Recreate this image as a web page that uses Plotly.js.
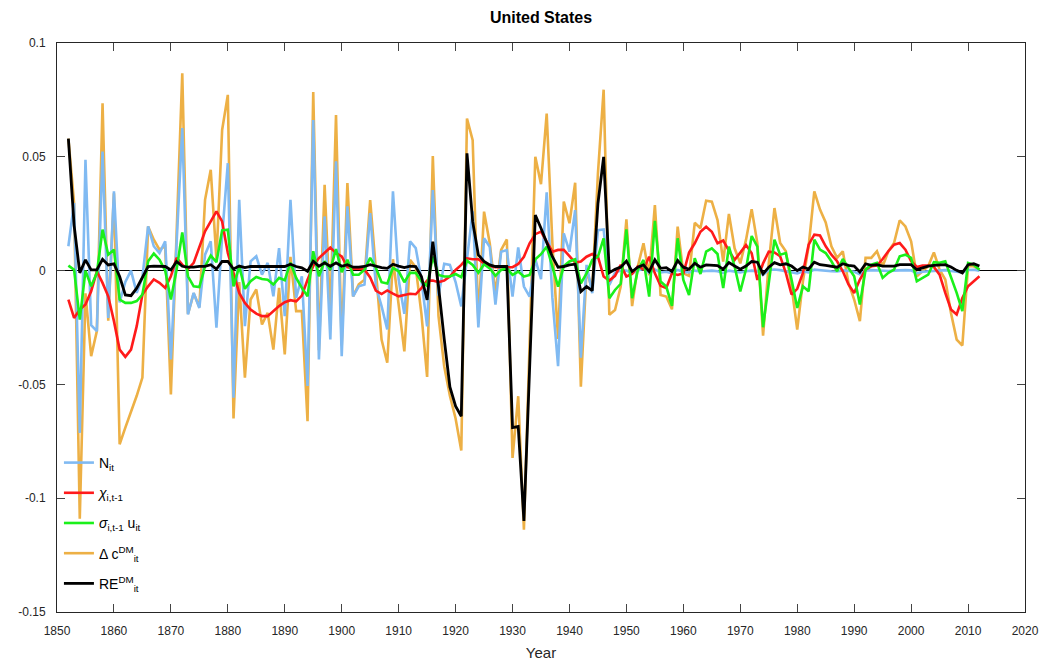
<!DOCTYPE html>
<html>
<head>
<meta charset="utf-8">
<script src="https://cdn.plot.ly/plotly-3.0.1.min.js"></script>
<style>html,body{margin:0;padding:0;background:#fff;}#chart{width:1039px;height:666px;}</style>
</head>
<body>
<div id="chart"></div>
<script>
// Years 1852-2012
var years = [
1852,1853,1854,1855,1856,1857,1858,1859,
1860,1861,1862,1863,1864,1865,1866,1867,1868,1869,
1870,1871,1872,1873,1874,1875,1876,1877,1878,1879,
1880,1881,1882,1883,1884,1885,1886,1887,1888,1889,
1890,1891,1892,1893,1894,1895,1896,1897,1898,1899,
1900,1901,1902,1903,1904,1905,1906,1907,1908,1909,
1910,1911,1912,1913,1914,1915,1916,1917,1918,1919,
1920,1921,1922,1923,1924,1925,1926,1927,1928,1929,
1930,1931,1932,1933,1934,1935,1936,1937,1938,1939,
1940,1941,1942,1943,1944,1945,1946,1947,1948,1949,
1950,1951,1952,1953,1954,1955,1956,1957,1958,1959,
1960,1961,1962,1963,1964,1965,1966,1967,1968,1969,
1970,1971,1972,1973,1974,1975,1976,1977,1978,1979,
1980,1981,1982,1983,1984,1985,1986,1987,1988,1989,
1990,1991,1992,1993,1994,1995,1996,1997,1998,1999,
2000,2001,2002,2003,2004,2005,2006,2007,2008,2009,
2010,2011,2012];

// N_it (blue)
var nIt = [
0.0107,0.0297,-0.0713,0.0487,-0.024,-0.0266,0.0523,-0.0208,
0.0348,-0.014,-0.005,0.0,-0.0098,-0.003,0.0194,0.0107,0.0077,0.0129,
-0.039,0.012,0.0626,-0.0193,-0.0098,-0.0164,0.007,0.0129,-0.0251,0.0151,
0.0472,-0.0558,0.0311,-0.0244,0.0041,0.0063,-0.0018,0.0034,-0.0113,0.0099,
-0.02,0.0311,-0.012,-0.0025,-0.0507,0.0662,-0.039,0.0238,-0.0303,0.048,
-0.0376,0.0282,-0.0113,-0.0069,-0.0061,0.0253,-0.0069,-0.0156,-0.0259,0.0348,
-0.0039,-0.019,0.0129,0.0099,-0.004,-0.0245,0.0354,-0.011,0.003,0.0025,
-0.005,-0.0157,0.006,0.026,-0.025,0.0142,0.0105,-0.0149,0.0083,0.009,
-0.0114,0.0102,-0.007,-0.0114,0.005,-0.0038,0.0344,-0.012,-0.042,0.0164,
0.0083,0.0266,-0.0383,0.0025,-0.0099,0.0178,0.0181,-0.0063,-0.0009,0.0,
0.0,-0.0012,0.0,0.0008,-0.001,0.0005,-0.0008,-0.0005,-0.0012,0.0003,
-0.0005,-0.0008,0.0,-0.0004,-0.0002,0.0,-0.0003,-0.001,0.0,-0.0004,
-0.0008,-0.0003,0.0,-0.0002,-0.0019,0.0003,0.0005,0.0002,-0.0002,-0.0006,
-0.0012,-0.0004,-0.0008,0.0004,0.0001,0.0,-0.0003,-0.0004,0.0001,-0.0002,
-0.0005,-0.0016,0.0,0.0002,0.0001,-0.0003,-0.0002,0.0,0.0002,0.0002,
0.0001,-0.0012,-0.0005,-0.0003,0.0,0.0001,0.0002,-0.0002,-0.0005,-0.0008,
0.0003,0.0004,0.0];

// chi_{i,t-1} (red)
var chi = [
-0.0127,-0.0208,-0.0171,-0.0149,-0.0091,-0.0003,-0.0054,-0.0113,
-0.0222,-0.0347,-0.0379,-0.0347,-0.0244,-0.0105,-0.0069,-0.0039,-0.0054,-0.0076,
-0.0025,0.0056,0.0026,0.0007,0.0034,0.0099,0.0173,0.0216,0.026,0.0216,
0.0077,-0.001,-0.0098,-0.0142,-0.0171,-0.0189,-0.02,-0.02,-0.0178,-0.0156,
-0.0139,-0.013,-0.0135,-0.011,-0.004,0.002,0.0055,0.008,0.0101,0.0077,
0.0062,0.0015,0.0008,0.0008,0.0005,-0.003,-0.0088,-0.0103,-0.0087,-0.0101,
-0.0113,-0.0107,-0.0102,-0.0104,-0.0077,-0.0044,-0.0044,-0.0051,-0.0044,-0.0026,
0.0003,0.0025,0.0054,0.005,0.005,0.0032,0.002,0.0015,0.0015,0.0014,
0.0015,0.0029,0.0061,0.012,0.016,0.0171,0.0128,0.0083,0.0091,0.0091,
0.0064,0.0035,0.004,0.0061,0.0073,0.0061,-0.0026,-0.0044,-0.0023,0.0025,
-0.0026,-0.0015,0.0018,0.0006,0.0061,-0.0012,-0.0067,-0.0077,-0.0012,-0.0019,
-0.0012,0.0079,0.012,0.0171,0.0193,0.0171,0.012,0.0132,0.0088,0.0047,
0.0079,0.0113,0.0076,-0.0041,0.0032,0.0083,0.008,0.0063,-0.001,-0.0105,
-0.008,-0.001,0.0114,0.0158,0.0154,0.0107,0.007,0.0041,-0.0003,-0.0061,
-0.0098,-0.0039,0.0004,0.0019,0.0022,0.0051,0.0085,0.0114,0.0121,0.0092,
0.0041,0.0016,0.0022,0.0022,0.0016,-0.0018,-0.0098,-0.0171,-0.0193,-0.012,
-0.0069,-0.0047,-0.0025];

// sigma_{i,t-1} u_it (green)
var sigmaU = [
0.0022,0.0004,-0.0215,0.0,-0.0069,-0.001,0.018,0.007,
0.0092,-0.0127,-0.0142,-0.0142,-0.0134,-0.0105,0.0041,0.0075,0.0048,0.0,
-0.0127,0.0004,0.0168,-0.0025,-0.0069,-0.0072,0.0019,0.0066,0.0037,0.0177,
0.018,-0.0069,0.0019,-0.008,-0.0047,-0.0028,-0.0037,-0.004,-0.0061,-0.0032,
-0.0042,0.0035,-0.0032,-0.0076,-0.0113,0.0085,-0.0025,0.0041,0.0004,0.0095,
-0.0007,0.0048,-0.0018,-0.0018,0.0004,0.0056,0.0012,-0.0051,-0.0057,0.0012,
-0.0003,-0.0051,-0.001,-0.001,-0.0047,-0.0067,0.0061,-0.0019,-0.0026,-0.0026,
-0.0015,-0.0029,0.0044,0.0025,-0.0009,0.0028,0.001,-0.0023,0.0003,0.001,
-0.0019,-0.0004,-0.0026,-0.0019,0.005,0.0072,0.0105,0.0018,-0.007,0.002,
0.004,0.005,-0.0056,-0.0012,0.0047,0.0061,0.0142,-0.0121,-0.0085,-0.0058,
0.0181,-0.0121,0.0003,0.0047,-0.0114,0.0219,-0.0048,-0.007,-0.0155,0.0142,
-0.0041,-0.0107,0.0054,-0.0015,0.0083,0.0098,0.0073,-0.0077,0.0105,0.0018,
-0.0092,0.0006,0.0152,0.0105,-0.0249,-0.0056,0.0136,0.007,0.0077,-0.0039,
-0.0164,-0.0069,-0.0091,0.0136,0.0092,0.0077,0.0041,-0.0003,0.0051,0.0012,
-0.0025,-0.0149,0.0004,0.0026,0.0034,-0.0032,-0.001,0.0004,0.0063,0.007,
0.0056,-0.0047,-0.0032,-0.0018,0.0037,0.0034,0.0041,-0.0025,-0.0098,-0.0178,
0.0034,0.0026,0.0004];

// Delta c^DM_it (orange)
var deltaC = [
0.058,0.0297,-0.109,-0.01,-0.0376,-0.0266,0.0735,-0.022,
0.034,-0.0763,-0.069,-0.062,-0.055,-0.047,0.0194,0.0136,0.0092,0.0107,
-0.0544,0.016,0.0867,-0.019,-0.01,-0.016,0.0311,0.0443,0.005,0.0618,
0.0772,-0.065,-0.005,-0.047,-0.0127,-0.0083,-0.0237,-0.0186,-0.0347,-0.0076,
-0.0368,0.006,-0.0178,-0.0178,-0.0662,0.0785,-0.035,0.0377,-0.02,0.0684,
-0.033,0.0385,-0.0113,-0.006,-0.004,0.031,-0.001,-0.0303,-0.0405,0.005,
-0.015,-0.0355,0.0047,0.0015,-0.019,-0.0467,0.0503,-0.02,-0.042,-0.055,
-0.065,-0.079,0.0668,0.0573,-0.022,0.0259,0.012,-0.0099,0.0091,0.0137,
-0.0823,-0.0552,-0.1138,-0.035,0.05,0.038,0.069,0.012,-0.03,0.0303,
0.0208,0.0386,-0.051,0.0003,-0.0085,0.0427,0.0795,-0.0194,-0.0173,-0.007,
0.0225,-0.0156,0.0018,0.012,-0.002,0.0288,-0.0107,-0.0114,-0.017,0.0193,
-0.0012,-0.0023,0.021,0.0186,0.0307,0.0303,0.0222,0.004,0.0249,0.0098,
0.0032,0.0135,0.027,0.012,-0.0286,0.0032,0.0275,0.0121,0.0085,-0.0069,
-0.0259,-0.0047,0.0107,0.0348,0.0268,0.0212,0.0107,0.0056,0.0085,-0.0054,
-0.0127,-0.0222,0.0056,0.0056,0.0085,0.0019,0.0085,0.0121,0.0221,0.0194,
0.0129,-0.0025,-0.0003,0.0019,0.008,0.0004,-0.0039,-0.0186,-0.0303,-0.0329,
0.0019,0.0019,0.0004];

// RE^DM_it (black)
var reDM = [
0.058,0.02,-0.001,0.0047,0.0003,0.0003,0.005,0.0025,
0.003,-0.0026,-0.0107,-0.011,-0.0077,-0.0026,0.0018,0.002,0.002,0.0018,
0.0003,0.004,0.0019,0.0015,0.0015,0.0019,0.0019,0.0026,0.0007,0.004,
0.004,0.0007,0.002,0.0013,0.0018,0.0018,0.0018,0.0016,0.0018,0.0018,
0.0018,0.0028,0.0018,0.0012,-0.0003,0.0041,0.0019,0.0034,0.0019,0.0034,
0.0019,0.0026,0.0015,0.0015,0.0018,0.0026,0.0018,0.0013,0.001,0.0028,
0.002,0.0013,0.002,0.0018,-0.0026,-0.0129,0.0127,-0.007,-0.03,-0.0511,
-0.0596,-0.064,0.0515,0.0215,0.0069,0.004,0.0025,0.0018,0.0018,0.0018,
-0.069,-0.0685,-0.11,-0.041,0.0244,0.0186,0.012,0.0061,0.0015,0.0018,
0.0025,0.0028,-0.0092,-0.007,-0.0088,0.0295,0.05,-0.0009,0.0006,0.0015,
0.0042,-0.0004,0.0015,0.0025,-0.0004,0.0047,0.001,0.0013,-0.0004,0.0044,
0.0015,0.0006,0.0032,0.0015,0.0025,0.0025,0.0022,0.0006,0.0035,0.002,
0.0006,0.002,0.004,0.0037,-0.0015,0.0015,0.0035,0.0025,0.003,0.002,
0.0,0.0016,0.0007,0.0037,0.0026,0.0023,0.002,0.0015,0.003,0.0023,
0.002,-0.0006,0.003,0.0023,0.0026,0.002,0.002,0.002,0.0026,0.0026,
0.0026,0.0004,0.0012,0.002,0.0023,0.0023,0.0026,0.0016,0.0001,-0.001,
0.0026,0.003,0.002];

var yTickVals = [-0.15, -0.1, -0.05, 0, 0.05, 0.1];
var yTickText = ['-0.15', '-0.1', '-0.05', '0', '0.05', '0.1'];

var seriesNames = [
  'N<sub>it</sub>',
  '<i>χ</i><sub>i,t-1</sub>',
  '<i>σ</i><sub>i,t-1</sub> u<sub>it</sub>',
  'Δ c<sup>DM</sup><sub>it</sub>',
  'RE<sup>DM</sup><sub>it</sub>'
];

function mk(y, name, color, rank, w) {
  return {
    x: years, y: y, type: 'scatter', mode: 'lines', name: name,
    line: {color: color, width: w || 2.6},
    legendrank: rank, legendgroup: 'g' + rank
  };
}

var traces = [
  mk(deltaC, seriesNames[3], '#EDB045', 4),
  mk(nIt, seriesNames[0], '#80BAF2', 1),
  mk(chi, seriesNames[1], '#FF1A1A', 2),
  mk(sigmaU, seriesNames[2], '#1AF01A', 3),
  mk(reDM, seriesNames[4], '#000000', 5, 2.8)
];

var axisFont = {family: 'Arial, Liberation Sans, sans-serif', size: 12, color: '#262626'};

var layout = {
  width: 1039, height: 666,
  paper_bgcolor: '#ffffff', plot_bgcolor: '#ffffff',
  margin: {l: 57, r: 14, t: 43, b: 54},
  title: {
    text: '<b>United States</b>',
    font: {family: 'Arial, Liberation Sans, sans-serif', size: 16, color: '#000'},
    x: 0.5, xref: 'paper', xanchor: 'center',
    y: 1 - 17 / 666, yref: 'container', yanchor: 'middle'
  },
  xaxis: {
    range: [1850, 2020], tick0: 1850, dtick: 10,
    showgrid: false, zeroline: false,
    showline: true, linecolor: '#262626', linewidth: 1, mirror: 'allticks',
    ticks: 'inside', ticklen: 8, tickcolor: '#444', tickwidth: 1,
    tickfont: axisFont, ticklabelstandoff: 8,
    title: {text: 'Year', font: {family: 'Arial, Liberation Sans, sans-serif', size: 15, color: '#262626'}, standoff: 10}
  },
  yaxis: {
    range: [-0.15, 0.1], tickvals: yTickVals, ticktext: yTickText,
    showgrid: false, zeroline: true, zerolinecolor: '#000', zerolinewidth: 1,
    showline: true, linecolor: '#262626', linewidth: 1, mirror: 'allticks',
    ticks: 'inside', ticklen: 8, tickcolor: '#444', tickwidth: 1,
    tickfont: axisFont, ticklabelstandoff: 8
  },
  showlegend: true,
  legend: {
    x: 0.002, y: 0.29, xanchor: 'left', yanchor: 'top',
    bgcolor: 'rgba(255,255,255,0)', borderwidth: 0,
    font: {family: 'Arial, Liberation Sans, sans-serif', size: 14, color: '#000'},
    tracegroupgap: 9, traceorder: 'grouped'
  }
};

Plotly.newPlot('chart', traces, layout, {displayModeBar: false, staticPlot: true});
</script>
</body>
</html>
